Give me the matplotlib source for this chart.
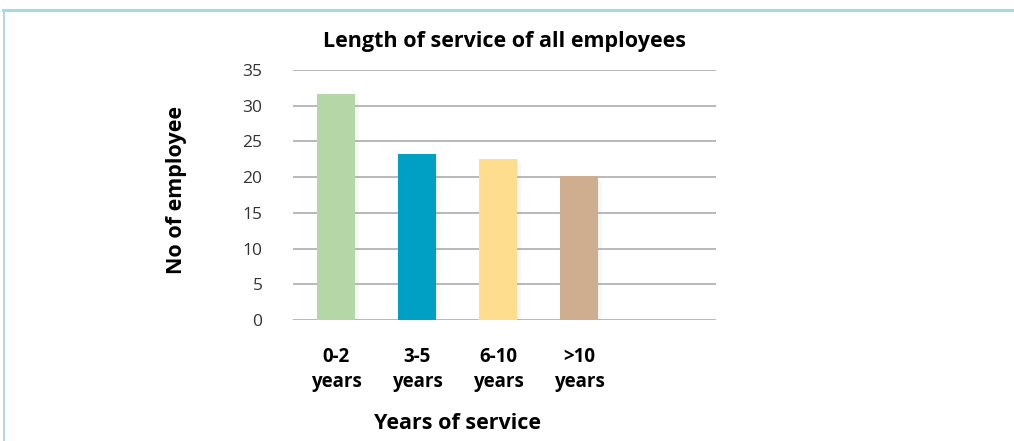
import matplotlib
matplotlib.use('Agg')
import matplotlib.pyplot as plt
import matplotlib.patheffects as pe
from matplotlib.lines import Line2D

categories = ['0-2\nyears', '3-5\nyears', '6-10\nyears', '>10\nyears']
values = [31.6, 23.3, 22.5, 20.1]
colors = ['#b5d7a8', '#00a0c4', '#fedd8e', '#cfae90']
yticks = [0, 5, 10, 15, 20, 25, 30, 35]

plt.rcParams['font.family'] = ['Open Sans', 'DejaVu Sans']


def main():
    fig = plt.figure(figsize=(10.14, 4.41), dpi=100)
    ax = fig.add_axes([0.289, 0.2744, 0.417, 0.567])

    x = range(len(categories))
    bars = ax.bar(x, values, width=0.47, color=colors, zorder=3)
    for b in bars:
        b.set_path_effects([pe.SimplePatchShadow(offset=(3, -3), shadow_rgbFace='#999999', alpha=0.07),
                            pe.Normal()])

    ax.set_xlim(-0.53, 4.69)
    ax.set_ylim(0, 35)
    ax.set_yticks(yticks)
    ax.set_xticks(list(x))
    ax.set_xticklabels(categories, fontweight='bold', fontsize=13.5, linespacing=1.3)
    ax.tick_params(axis='x', length=0, pad=19.5)
    ax.tick_params(axis='y', length=0, pad=22, labelsize=12.5, labelcolor='#333333')

    ax.grid(axis='y', color='#b3b3b3', linewidth=1.3, zorder=0)
    for s in ax.spines.values():
        s.set_visible(False)

    ax.set_ylabel('No of employee', fontsize=15.5, fontweight='bold')
    ax.yaxis.set_label_coords(-0.25, 0.52)
    ax.set_xlabel('Years of service', fontsize=15.5, fontweight='bold')
    ax.xaxis.set_label_coords(0.39, -0.37)
    ax.text(0.50, 1.112, 'Length of service of all employees', transform=ax.transAxes,
            ha='center', va='center', fontsize=15.5, fontweight='bold')

    # light blue frame on top and left
    fig.add_artist(Line2D([0.003, 1.0], [1 - 9.5 / 441, 1 - 9.5 / 441], color='#a8d8e4', linewidth=2.2))
    fig.add_artist(Line2D([3.8 / 1014, 3.8 / 1014], [0, 1 - 9.5 / 441], color='#a8d8e4', linewidth=1.3))

    fig.savefig('out.png', dpi=100)


if __name__ == '__main__':
    main()
